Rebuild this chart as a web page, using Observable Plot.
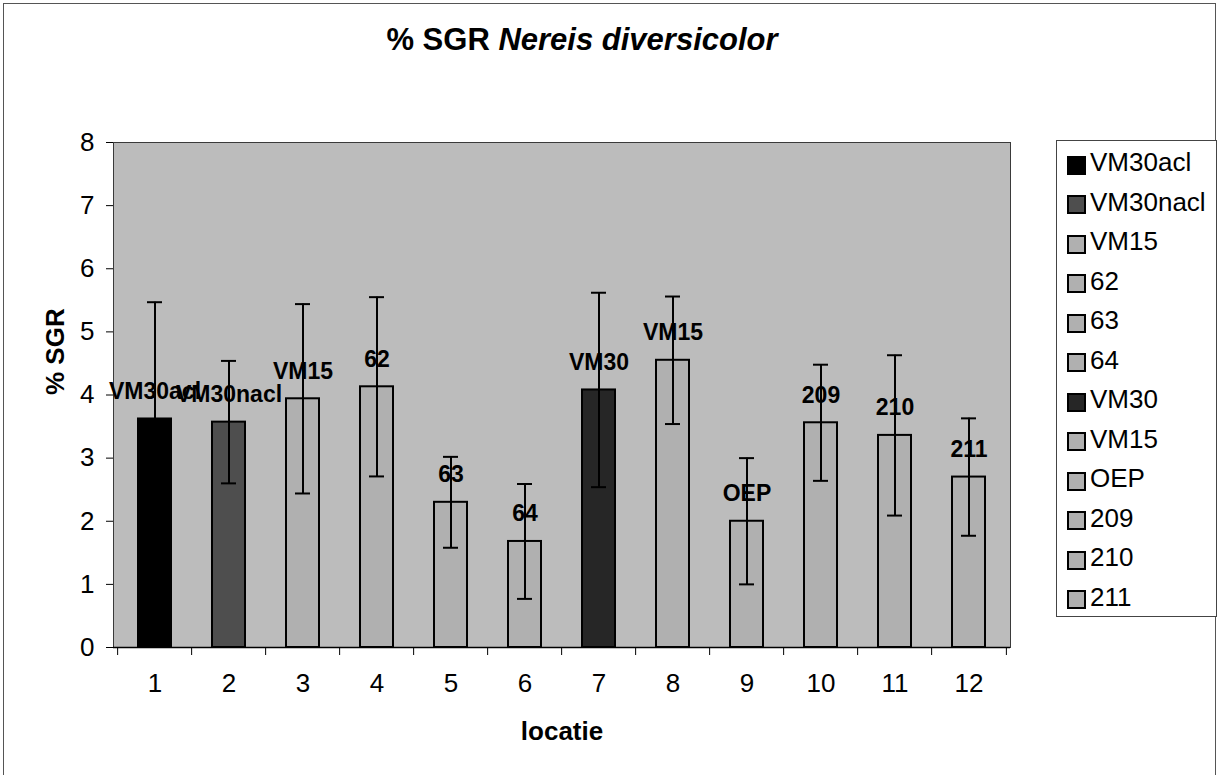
<!DOCTYPE html>
<html>
<head>
<meta charset="utf-8">
<script src="https://cdn.jsdelivr.net/npm/d3@7"></script>
<script src="https://cdn.jsdelivr.net/npm/@observablehq/plot@0.6"></script>
<style>
  html, body { margin: 0; padding: 0; background: #fff; overflow: hidden; }
  body { width: 1222px; height: 775px; position: relative; font-family: "Liberation Sans", Arial, sans-serif; }
  #frame { position: absolute; left: 3px; top: 3px; width: 1213px; height: 800px; border: 1px solid #555; box-sizing: border-box; }
  #title { position: absolute; left: 0; top: 24px; width: 1164px; text-align: center; font-size: 31px; line-height: 31px; font-weight: bold; color: #000; }
  #chart { position: absolute; left: 0; top: 100px; }
  #legend { position: absolute; left: 1056px; top: 140px; width: 161px; height: 477px; border: 1px solid #444; box-sizing: border-box; background: #fff; padding-top: 2px; }
  .item { height: 39.5px; display: flex; align-items: center; font-size: 26px; color: #000; }
  .sw { width: 15px; height: 15px; border: 2px solid #000; margin-left: 10px; margin-right: 4px; margin-top: 5px; }
</style>
</head>
<body>
<div id="frame"></div>
<div id="title">% SGR <i>Nereis diversicolor</i></div>
<div id="chart"></div>
<div id="legend"></div>
<script>
// Data
const locaties = ["1", "2", "3", "4", "5", "6", "7", "8", "9", "10", "11", "12"];
const names = ["VM30acl", "VM30nacl", "VM15", "62", "63", "64", "VM30", "VM15", "OEP", "209", "210", "211"];
const sgr = [3.62, 3.57, 3.94, 4.13, 2.30, 1.68, 4.08, 4.55, 2.00, 3.56, 3.36, 2.70];
const sd = [1.85, 0.97, 1.50, 1.42, 0.72, 0.91, 1.54, 1.01, 1.00, 0.92, 1.27, 0.93];
const yTicks = [0, 1, 2, 3, 4, 5, 6, 7, 8];

// Styles
const fills = ["#000000", "#4e4e4e", "#b0b0b0", "#b0b0b0", "#b0b0b0", "#b0b0b0", "#262626", "#b0b0b0", "#b0b0b0", "#b0b0b0", "#b0b0b0", "#b0b0b0"];

const data = locaties.map((l, i) => ({loc: l, name: names[i], v: sgr[i], sd: sd[i]}));

const W = 1040, H = 675, mL = 113, mR = 30, mT = 42, mB = 128;
const step = (W - mL - mR) / locaties.length;

const chart = Plot.plot({
  width: W, height: H,
  marginLeft: mL, marginRight: mR, marginTop: mT, marginBottom: mB,
  style: {fontFamily: "'Liberation Sans', Arial, sans-serif", fontSize: "26px", color: "#000", background: "transparent", overflow: "visible"},
  x: {domain: locaties, paddingInner: 0.56, paddingOuter: 0.28, axis: null},
  y: {domain: [0, 8], axis: null},
  color: {domain: locaties, range: fills},
  marks: [
    Plot.frame({fill: "#bcbcbc", stroke: "#3a3a3a"}),
    Plot.barY(data, {x: "loc", y: "v", fill: "loc", stroke: "#000", strokeWidth: 2}),
    Plot.text(data, {x: "loc", y: "v", text: "name", dy: -20, lineAnchor: "bottom", fontWeight: "bold", fontSize: 23, fill: "#000"}),
    Plot.ruleX(data, {x: "loc", y1: d => d.v - d.sd, y2: d => d.v + d.sd, stroke: "#000", strokeWidth: 2}),
    Plot.tickY(data, {x: "loc", y: d => d.v + d.sd, stroke: "#000", strokeWidth: 2, insetLeft: 9, insetRight: 9}),
    Plot.tickY(data, {x: "loc", y: d => d.v - d.sd, stroke: "#000", strokeWidth: 2, insetLeft: 9, insetRight: 9}),
    Plot.ruleY([0], {stroke: "#000", strokeWidth: 1.5}),
    Plot.axisY({ticks: yTicks, tickSize: 7, tickPadding: 12, tickFormat: d => String(d), label: null, fontSize: 26}),
    Plot.axisX({tickSize: 8, dx: -step / 2, tickFormat: () => "", label: null}),
    Plot.axisX({ticks: [locaties[locaties.length - 1]], tickSize: 8, dx: step / 2, tickFormat: () => "", label: null}),
    Plot.axisX({tickSize: 0, tickPadding: 26, label: null, fontSize: 26}),
    Plot.text(["locatie"], {frameAnchor: "bottom", dy: 92, lineAnchor: "bottom", fontWeight: "bold", fontSize: 26, fill: "#000"}),
    Plot.text(["% SGR"], {frameAnchor: "left", dx: -58, rotate: -90, fontWeight: "bold", fontSize: 26, fill: "#000"})
  ]
});
document.getElementById("chart").appendChild(chart);

// Legend
const legend = document.getElementById("legend");
names.forEach((n, i) => {
  const item = document.createElement("div");
  item.className = "item";
  const sw = document.createElement("span");
  sw.className = "sw";
  sw.style.background = fills[i];
  const t = document.createElement("span");
  t.textContent = n;
  item.appendChild(sw);
  item.appendChild(t);
  legend.appendChild(item);
});
</script>
</body>
</html>
